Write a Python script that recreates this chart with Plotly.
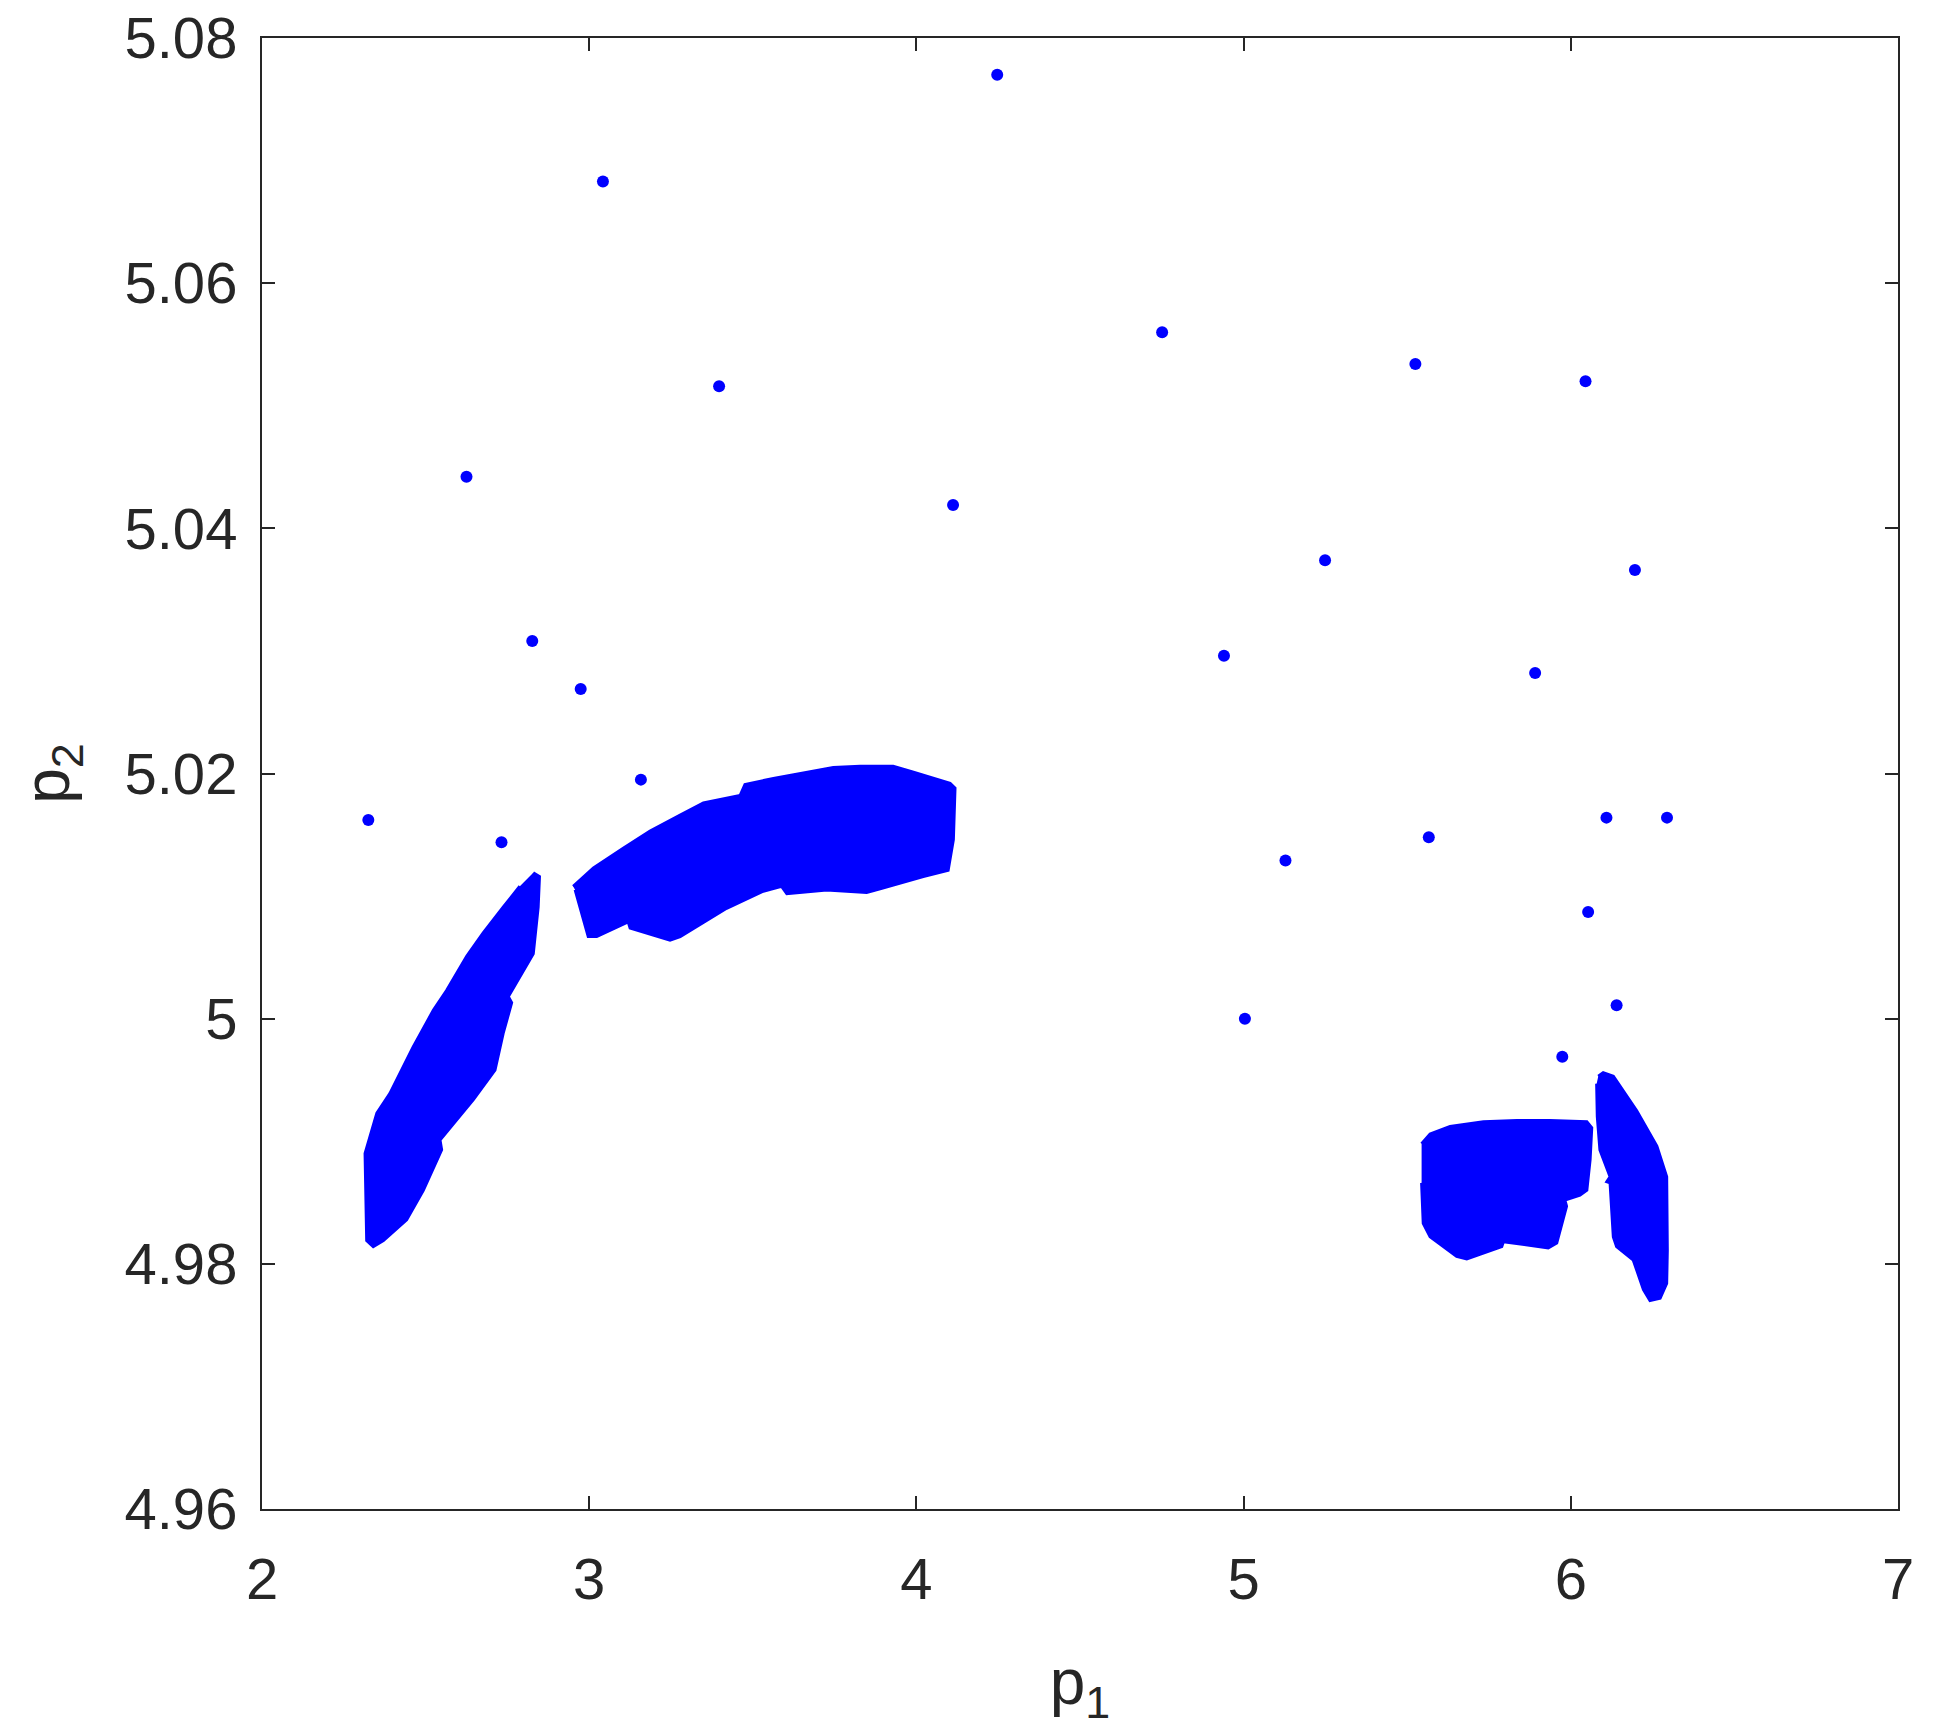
import plotly.graph_objects as go

# isolated solutions
p1_points = [4.247, 3.042, 4.751, 5.525, 6.045, 3.397, 2.625, 4.112, 5.249, 6.196,
             2.826, 4.940, 2.974, 5.891, 3.158, 2.325, 6.109, 6.294, 2.732, 5.566,
             5.128, 6.053, 5.004, 6.140, 5.974]
p2_points = [5.0770, 5.0683, 5.0560, 5.0534, 5.0520, 5.0516, 5.0442, 5.0419, 5.0374, 5.0366,
             5.0308, 5.0296, 5.0269, 5.0282, 5.0195, 5.0162, 5.0164, 5.0164, 5.0144, 5.0148,
             5.0129, 5.0087, 5.0000, 5.0011, 4.9969]

# outlines of the dense clusters (too many dots to read one by one)
band_left_p1 = [2.829, 2.848, 2.844, 2.829, 2.753, 2.763, 2.737, 2.712, 2.646, 2.544,
                2.549, 2.493, 2.442, 2.371, 2.340, 2.320, 2.315, 2.351, 2.391, 2.462,
                2.524, 2.564, 2.626, 2.676, 2.737, 2.788]
band_left_p2 = [5.0119, 5.0116, 5.0091, 5.0053, 5.0018, 5.0013, 4.9988, 4.9958, 4.9934, 4.9901,
                4.9893, 4.9860, 4.9836, 4.9819, 4.9814, 4.9819, 4.9890, 4.9923, 4.9939, 4.9977,
                5.0007, 5.0023, 5.0051, 5.0070, 5.0091, 5.0108]

arc_p1 = [2.951, 3.013, 3.104, 3.186, 3.278, 3.349, 3.461, 3.476, 3.563, 3.665,
          3.746, 3.828, 3.929, 3.991, 4.103, 4.118, 4.113, 4.097, 4.021, 3.889,
          3.848, 3.726, 3.604, 3.588, 3.532, 3.420, 3.278, 3.247, 3.125, 3.119,
          3.023, 2.997, 2.957]
arc_p2 = [5.0108, 5.0123, 5.0139, 5.0153, 5.0166, 5.0176, 5.0182, 5.0191, 5.0196, 5.0201,
          5.0205, 5.0206, 5.0206, 5.0201, 5.0192, 5.0188, 5.0146, 5.0121, 5.0116, 5.0106,
          5.0103, 5.0105, 5.0102, 5.0108, 5.0104, 5.0090, 5.0067, 5.0064, 5.0074, 5.0079,
          5.0067, 5.0067, 5.0105]

block_p1 = [5.544, 5.570, 5.631, 5.733, 5.835, 5.936, 6.049, 6.064, 6.059, 6.049,
            6.028, 5.982, 5.987, 5.957, 5.931, 5.814, 5.794, 5.789, 5.682, 5.651,
            5.570, 5.549, 5.544]
block_p2 = [4.9898, 4.9906, 4.9912, 4.9916, 4.9917, 4.9917, 4.9916, 4.9911, 4.9885, 4.9860,
            4.9856, 4.9852, 4.9847, 4.9817, 4.9813, 4.9817, 4.9818, 4.9814, 4.9804, 4.9806,
            4.9822, 4.9833, 4.9866]

sliver_p1 = [6.084, 6.099, 6.130, 6.201, 6.263, 6.293, 6.295, 6.293, 6.273, 6.242,
             6.222, 6.191, 6.140, 6.130, 6.120, 6.110, 6.120, 6.089, 6.081, 6.079]
sliver_p2 = [4.9953, 4.9956, 4.9953, 4.9925, 4.9896, 4.9871, 4.9811, 4.9784, 4.9772, 4.9770,
             4.9779, 4.9803, 4.9814, 4.9822, 4.9866, 4.9867, 4.9871, 4.9893, 4.9920, 4.9947]

x_ticks = [2, 3, 4, 5, 6, 7]
x_labels = ['2', '3', '4', '5', '6', '7']
y_ticks = [4.96, 4.98, 5.00, 5.02, 5.04, 5.06, 5.08]
y_labels = ['4.96', '4.98', '5', '5.02', '5.04', '5.06', '5.08']

blue = '#0000ff'
ink = '#262626'
font_name = 'Liberation Sans, Arial'

fig = go.Figure()

for xs, ys in [(band_left_p1, band_left_p2), (arc_p1, arc_p2),
               (block_p1, block_p2), (sliver_p1, sliver_p2)]:
    fig.add_trace(go.Scatter(
        x=xs, y=ys, mode='lines', fill='toself',
        fillcolor=blue, line=dict(color=blue, width=3),
        hoverinfo='skip', showlegend=False))

fig.add_trace(go.Scatter(
    x=p1_points, y=p2_points, mode='markers',
    marker=dict(color=blue, size=12, line=dict(width=0)),
    showlegend=False))

axis_style = dict(
    showgrid=False, zeroline=False, automargin=False,
    showline=True, linecolor=ink, linewidth=2,
    mirror='allticks', ticks='inside', ticklen=13, tickwidth=2, tickcolor=ink,
    ticklabeloverflow='allow',
    tickfont=dict(family=font_name, size=58, color=ink),
)

# page body adds an 8px offset, so the figure is a bit smaller than the window
fig.update_layout(
    width=1927, height=1724,
    margin=dict(l=254, r=37, t=30, b=223),
    paper_bgcolor='white', plot_bgcolor='white',
    xaxis=dict(range=[2, 7], tickvals=x_ticks, ticktext=x_labels,
               ticklabelstandoff=18,
               title=dict(text='p<sub>1</sub>', standoff=50,
                          font=dict(family=font_name, size=64, color=ink)),
               **axis_style),
    yaxis=dict(range=[4.96, 5.08], tickvals=y_ticks, ticktext=y_labels,
               ticklabelstandoff=11,
               title=dict(text='p<sub>2</sub>', standoff=34,
                          font=dict(family=font_name, size=64, color=ink)),
               **axis_style),
)

fig.write_html('out.html')
